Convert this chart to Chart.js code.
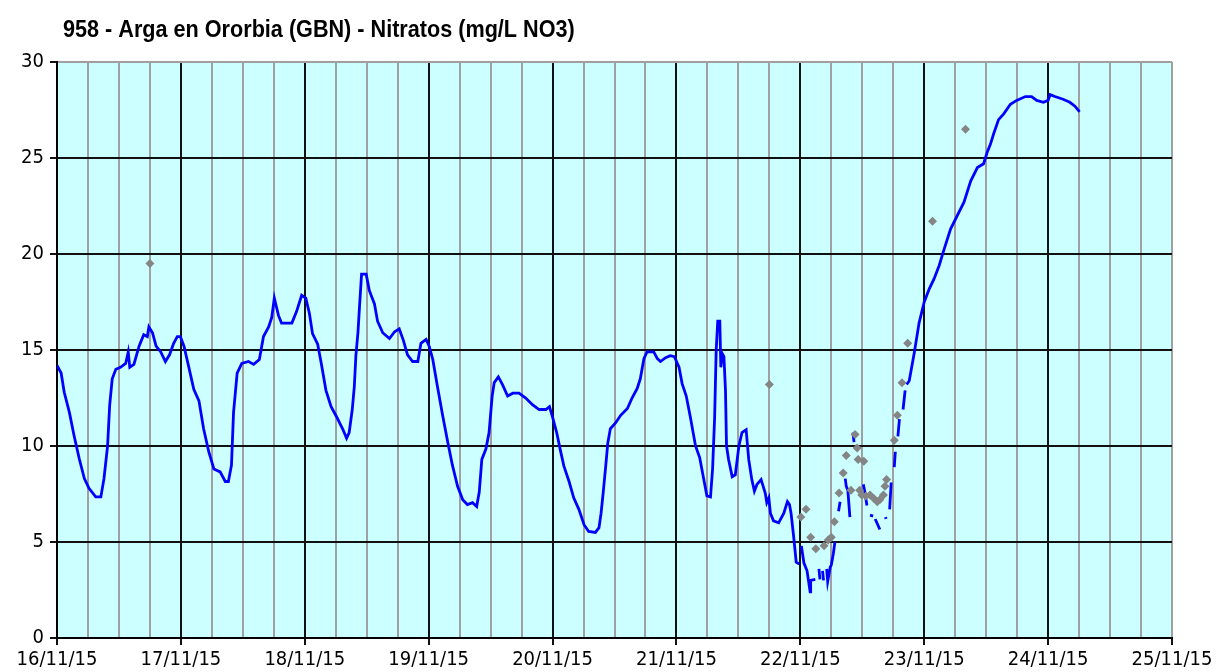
<!DOCTYPE html>
<html>
<head>
<meta charset="utf-8">
<script src="https://cdn.jsdelivr.net/npm/chart.js@4.4.1/dist/chart.umd.min.js"></script>
<style>
  html, body { margin: 0; padding: 0; background: #fff; }
  #wrap { width: 1217px; height: 672px; position: relative; }
</style>
</head>
<body>
<div id="wrap"><canvas id="nitratos" width="1217" height="672"></canvas></div>
<script>
// 958 - Arga en Ororbia: nitrate probe readings (hours from 16/11/15 00:00)
const dayLabels = ['16/11/15', '17/11/15', '18/11/15', '19/11/15', '20/11/15',
                   '21/11/15', '22/11/15', '23/11/15', '24/11/15', '25/11/15'];

// continuous probe series; null marks a gap in the record
const probeHours = [
  0.0, 0.8, 1.4, 2.4, 3.3, 4.3, 5.3, 6.2, 7.5, 8.5, 9.1, 9.8, 10.2, 10.7, 11.4, 12.3, 13.3, 13.8, 14.1, 14.9,
  15.9, 16.8, 17.5, 17.8, 18.5, 19.2, 20.1, 21.0, 21.8, 22.6, 23.3, 23.9, 24.6, 25.5, 26.5, 27.5, 28.4, 29.4,
  30.4, 31.6, 32.6, 33.2, 33.8, 34.2, 34.9, 35.8, 37.1, 38.1, 39.2, 40.0, 41.0, 41.6, 42.1, 42.9, 43.5, 45.5,
  46.4, 47.4, 48.2, 48.9, 49.5, 50.5, 51.2, 52.1, 53.1, 54.1, 55.4, 56.1, 56.6, 57.2, 57.6, 57.9, 58.3, 58.6,
  59.0, 59.9, 60.5, 61.5, 62.1, 63.1, 64.4, 65.4, 66.3, 67.1, 67.9, 68.9, 69.9, 70.5, 71.5, 72.1, 72.8, 73.7,
  74.7, 75.7, 76.6, 77.6, 78.6, 79.5, 80.5, 81.3, 81.8, 82.3, 83.1, 83.7, 84.3, 84.7, 85.5, 86.3, 87.3, 88.3,
  89.5, 90.8, 92.1, 93.4, 94.7, 95.4, 96.0, 96.8, 97.5, 98.2, 99.2, 100.1, 101.1, 102.1, 103.0, 104.3, 105.0,
  105.4, 105.8, 106.3, 106.7, 107.2, 108.2, 109.2, 110.5, 111.4, 112.4, 113.0, 113.7, 114.3, 115.6, 116.3,
  116.9, 117.9, 118.8, 119.6, 120.5, 121.1, 121.9, 122.7, 123.7, 124.5, 125.3, 125.9, 126.6, 127.0, 127.4,
  127.7, 128.0, 128.4, 128.6, 128.9, 129.2, 129.5, 129.7, 130.1, 130.8, 131.4, 132.1, 132.7, 133.5, 134.0,
  134.6, 135.1, 135.6, 136.4, 137.2, 137.5, 137.9, 138.2, 138.8, 139.8, 140.8, 141.5, 141.9, 142.2, 142.7,
  143.2, 143.8, 144.0,
  144.2, 144.7, 145.3, 145.9, 146.0, 146.9, 147.3,
  147.6, 147.8, 148.0,
  148.3, 148.5, 148.8,
  149.1, 149.3, 149.8, 150.0, 150.4, 150.7, 151.0,
  151.4, 151.7, 152.2,
  152.7, 152.9, 153.2, 153.6, 153.9,
  154.2, 154.4, 155.0,
  156.2, 156.5, 156.9, 157.2,
  157.5, 158.1, 158.3,
  158.5, 159.0, 159.4, 160.0,
  160.5, 160.6, 161.0,
  161.3, 161.6, 161.9,
  162.2, 162.4, 162.6,
  162.9, 163.2, 163.5,
  163.9, 164.3, 164.4,
  164.6, 165.1, 166.1, 167.0, 168.0, 169.0, 169.9, 170.9, 171.8, 173.1, 174.4, 175.7, 177.0, 178.3,
  179.5, 180.2, 180.8, 181.5, 182.4, 183.4, 184.7, 185.9, 187.6, 188.8, 189.8, 191.1, 192.0, 192.4,
  193.3, 194.9, 196.2, 197.2, 198.1
];
const probeValues = [
  14.2, 13.8, 12.8, 11.75, 10.55, 9.35, 8.3, 7.8, 7.35, 7.35, 8.3, 10.0, 12.1, 13.5, 14.0, 14.1, 14.3, 14.9, 14.1, 14.25,
  15.2, 15.8, 15.7, 16.2, 15.9, 15.2, 14.9, 14.4, 14.75, 15.35, 15.7, 15.7, 15.2, 14.15, 12.95, 12.35, 10.9, 9.7,
  8.8, 8.65, 8.15, 8.15, 9.0, 11.75, 13.8, 14.3, 14.4, 14.25, 14.5, 15.7, 16.2, 16.7, 17.7, 16.8, 16.4, 16.4,
  17.0, 17.85, 17.7, 16.9, 15.85, 15.3, 14.3, 12.9, 12.05, 11.55, 10.85, 10.4, 10.7, 11.9, 13.1, 14.7, 15.9, 17.25,
  18.95, 18.95, 18.1, 17.4, 16.5, 15.9, 15.6, 15.95, 16.1, 15.5, 14.75, 14.4, 14.4, 15.35, 15.55, 15.2, 14.5, 13.1,
  11.6, 10.2, 9.0, 7.9, 7.2, 6.95, 7.05, 6.85, 7.6, 9.3, 9.85, 10.7, 12.6, 13.3, 13.6, 13.2, 12.6, 12.75,
  12.75, 12.5, 12.15, 11.9, 11.9, 12.05, 11.5, 10.7, 9.8, 8.95, 8.15, 7.3, 6.7, 5.9, 5.55, 5.5, 5.75,
  6.5, 7.55, 8.95, 10.15, 10.9, 11.2, 11.6, 11.95, 12.5, 13.0, 13.5, 14.55, 14.9, 14.9, 14.55,
  14.4, 14.6, 14.7, 14.65, 14.1, 13.25, 12.6, 11.5, 10.0, 9.4, 8.25, 7.4, 7.35, 8.8, 11.5,
  15.0, 16.5, 16.5, 14.1, 14.8, 14.65, 12.9, 10.0, 9.3, 8.4, 8.5, 10.0, 10.7, 10.85, 9.3,
  8.25, 7.65, 8.0, 8.25, 7.55, 7.05, 7.3, 6.5, 6.1, 6.0, 6.5, 7.1, 6.95, 6.5, 5.3,
  3.95, 3.85, null,
  4.8, 3.9, 3.5, 2.4, 3.0, 3.05, null,
  3.6, 3.05, null,
  3.5, 3.0, null,
  3.6, 2.95, 3.7, 3.8, 4.4, 5.0, null,
  6.6, 7.1, null,
  8.3, 7.9, 7.7, 6.3, null,
  10.7, 10.2, null,
  8.0, 7.6, 6.9, null,
  6.4, 6.35, null,
  6.2, 5.9, 5.65, null,
  6.3, 6.2, null,
  6.7, 8.1, null,
  8.9, 9.7, null,
  10.5, 11.4, null,
  11.9, 12.9, null,
  13.2, 13.4, 14.9, 16.4, 17.5, 18.2, 18.7, 19.4, 20.2, 21.3, 22.0, 22.7, 23.8, 24.5,
  24.7, 25.3, 25.7, 26.3, 27.0, 27.3, 27.8, 28.0, 28.2, 28.2, 28.0, 27.9, 28.0, 28.3,
  28.2, 28.06, 27.9, 27.7, 27.4
];

// laboratory samples (grey diamonds)
const sampleHours = [
  18.0, 138.0, 144.1, 145.1, 146.0, 147.0, 148.6, 149.4, 150.0, 150.6, 151.5, 152.3, 152.9, 153.8,
  154.6, 155.0, 155.2, 155.5, 155.9, 156.3, 156.7, 157.5, 158.3, 158.9, 159.4, 160.1, 160.4, 160.7,
  162.2, 162.8, 163.7, 164.8, 169.6, 176.0
];
const sampleValues = [
  19.5, 13.2, 6.3, 6.7, 5.25, 4.65, 4.8, 5.1, 5.25, 6.05, 7.55, 8.6, 9.5, 7.7,
  10.6, 9.9, 9.3, 7.7, 7.45, 9.2, 7.4, 7.45, 7.25, 7.1, 7.2, 7.45, 7.9, 8.25,
  10.3, 11.6, 13.3, 15.35, 21.7, 26.5
];

const chartTitle = '958 - Arga en Ororbia (GBN) - Nitratos (mg/L NO3)';

const toPoints = (xs, ys) => xs.map((x, i) => ({ x: x, y: ys[i] }));

const axisFont = { family: '"DejaVu Sans Condensed", "DejaVu Sans", sans-serif', size: 20 };
const GRID_BLACK = '#111111';
const GRID_GREY = '#a0a0a0';

// light cyan plot background behind the grid
const plotBackground = {
  id: 'plotBackground',
  beforeDraw(chart) {
    const { ctx, chartArea: a } = chart;
    ctx.save();
    ctx.fillStyle = '#ccffff';
    ctx.fillRect(a.left, a.top, a.right - a.left, a.bottom - a.top);
    ctx.restore();
  }
};

// title sits above the plot, left aligned with it
const leftTitle = {
  id: 'leftTitle',
  afterDraw(chart) {
    const ctx = chart.ctx;
    ctx.save();
    ctx.fillStyle = '#000';
    ctx.font = 'bold 23px "Liberation Sans", Arial, sans-serif';
    ctx.textBaseline = 'alphabetic';
    ctx.textAlign = 'left';
    ctx.translate(63, 37);
    ctx.scale(0.94, 1);
    ctx.fillText(chartTitle, 0, 0);
    ctx.restore();
  }
};

new Chart(document.getElementById('nitratos'), {
  type: 'scatter',
  data: {
    datasets: [
      {
        label: 'Muestras',
        data: toPoints(sampleHours, sampleValues),
        pointStyle: 'rectRot',
        pointRadius: 4.5,
        backgroundColor: '#858585',
        borderColor: '#858585',
        borderWidth: 0,
        showLine: false
      },
      {
        label: 'Nitratos',
        data: toPoints(probeHours, probeValues),
        showLine: true,
        spanGaps: false,
        borderColor: '#0000ff',
        borderWidth: 2.8,
        pointRadius: 0,
        tension: 0
      }
    ]
  },
  options: {
    responsive: false,
    animation: false,
    layout: { padding: { left: 0, right: 45, top: 62, bottom: 0 } },
    plugins: {
      legend: { display: false },
      title: { display: false },
      tooltip: { enabled: false }
    },
    scales: {
      x: {
        type: 'linear',
        min: 0,
        max: 216,
        afterFit: s => { s.height = 34; },
        afterBuildTicks: s => {
          s.ticks = [];
          for (let h = 0; h <= 216; h += 6) s.ticks.push({ value: h });
        },
        ticks: {
          autoSkip: false,
          maxRotation: 0,
          padding: 3,
          color: '#000',
          font: axisFont,
          callback: v => (v % 24 === 0 ? dayLabels[v / 24] : '')
        },
        grid: {
          drawOnChartArea: true,
          tickLength: 7,
          lineWidth: 2,
          color: c => (c.tick && c.tick.value % 24 === 0 && c.tick.value !== 216 ? GRID_BLACK : GRID_GREY),
          tickColor: c => (c.tick && c.tick.value % 24 === 0 ? GRID_BLACK : 'rgba(0,0,0,0)')
        },
        border: { color: '#000', width: 2 }
      },
      y: {
        min: 0,
        max: 30,
        afterFit: s => { s.width = 57; },
        ticks: {
          stepSize: 5,
          padding: 6,
          color: '#000',
          font: axisFont
        },
        grid: {
          tickLength: 7,
          lineWidth: 2,
          color: c => (c.tick && c.tick.value === 30 ? GRID_GREY : GRID_BLACK),
          tickColor: GRID_BLACK
        },
        border: { color: '#000', width: 2 }
      }
    }
  },
  plugins: [plotBackground, leftTitle]
});
</script>
</body>
</html>
